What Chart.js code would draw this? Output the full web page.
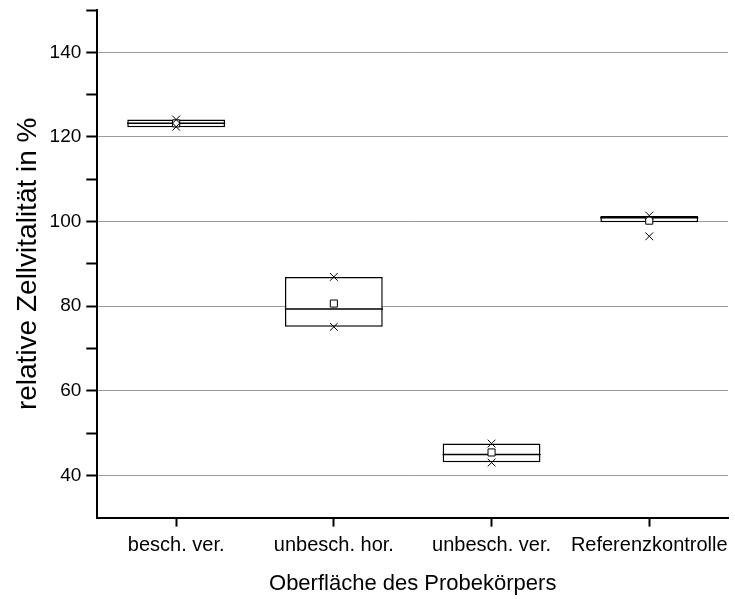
<!DOCTYPE html>
<html>
<head>
<meta charset="utf-8">
<script src="https://cdn.jsdelivr.net/npm/chart.js@4/dist/chart.umd.min.js"></script>
<style>
  html, body { margin: 0; padding: 0; background: #fff; overflow: hidden; }
  canvas { display: block; }
</style>
</head>
<body>
<canvas id="boxChart" width="735" height="599"></canvas>
<script>
const categories = ['besch. ver.', 'unbesch. hor.', 'unbesch. ver.', 'Referenzkontrolle'];
const boxLow = [122.3, 75.1, 43.1, 99.8];
const boxHigh = [124.1, 86.9, 47.5, 101.3];
const medians = [123.2, 79.3, 44.9, 100.9];
const means = [123.2, 80.6, 45.4, 100.2];
const pointsHigh = [124.1, 86.9, 47.5, 101.4];
const pointsLow = [122.4, 75.1, 43.0, 96.5];
const majorTicks = [40, 60, 80, 100, 120, 140];

document.addEventListener('DOMContentLoaded', () => {
    const ctx = document.getElementById('boxChart').getContext('2d');
    const font = 'Liberation Sans, Arial, sans-serif';

    new Chart(ctx, {
        type: 'bar',
        data: {
            labels: categories,
            datasets: [
                {
                    // Boxen
                    type: 'bar',
                    data: boxLow.map((v, i) => [v, boxHigh[i]]),
                    backgroundColor: '#ffffff',
                    borderColor: '#000000',
                    borderWidth: 1.5,
                    borderSkipped: false,
                    barPercentage: 0.62,
                    categoryPercentage: 1,
                    order: 3
                },
                {
                    // Median
                    type: 'line',
                    data: medians,
                    showLine: false,
                    pointStyle: 'line',
                    pointRadius: 49,
                    pointBorderWidth: 1.5,
                    pointBorderColor: '#000000',
                    order: 2
                },
                {
                    // Mittelwert
                    type: 'line',
                    data: means,
                    showLine: false,
                    pointStyle: 'rect',
                    pointRadius: 5,
                    pointBorderWidth: 1,
                    pointBorderColor: '#000000',
                    pointBackgroundColor: '#ffffff',
                    order: 1
                },
                {
                    type: 'line',
                    data: pointsHigh,
                    showLine: false,
                    pointStyle: 'crossRot',
                    pointRadius: 5.5,
                    pointBorderWidth: 1,
                    pointBorderColor: '#000000',
                    order: 0
                },
                {
                    type: 'line',
                    data: pointsLow,
                    showLine: false,
                    pointStyle: 'crossRot',
                    pointRadius: 5.5,
                    pointBorderWidth: 1,
                    pointBorderColor: '#000000',
                    order: 0
                }
            ]
        },
        options: {
            responsive: false,
            animation: false,
            layout: {
                autoPadding: false,
                padding: { top: 10, right: 3, left: 11, bottom: 2 }
            },
            plugins: {
                legend: { display: false },
                tooltip: { enabled: false }
            },
            scales: {
                x: {
                    offset: true,
                    grid: {
                        offset: false,
                        color: 'rgba(0,0,0,0)',
                        tickColor: '#000000',
                        tickLength: 9,
                        tickWidth: 2
                    },
                    border: { color: '#000000', width: 2 },
                    ticks: {
                        color: '#000000',
                        font: { family: font, size: 20 },
                        padding: 7,
                        maxRotation: 0,
                        autoSkip: false
                    },
                    title: {
                        display: true,
                        text: 'Oberfläche des Probekörpers',
                        color: '#000000',
                        font: { family: font, size: 22 },
                        padding: { top: 6, bottom: 0 }
                    }
                },
                y: {
                    min: 30,
                    max: 150,
                    afterFit: scale => {
                        scale.paddingTop = 0;
                        scale.paddingBottom = 0;
                    },
                    grid: {
                        color: c => majorTicks.includes(c.tick.value) ? '#9a9a9a' : 'rgba(0,0,0,0)',
                        tickColor: c => c.tick.value === 30 ? 'rgba(0,0,0,0)' : '#000000',
                        tickLength: 11,
                        tickWidth: 2,
                        lineWidth: 1
                    },
                    border: { color: '#000000', width: 2 },
                    ticks: {
                        stepSize: 10,
                        color: '#000000',
                        font: { family: font, size: 19 },
                        padding: 5,
                        callback: v => majorTicks.includes(v) ? v : ''
                    },
                    title: {
                        display: true,
                        text: 'relative Zellvitalität in %',
                        color: '#000000',
                        font: { family: font, size: 28 },
                        padding: { top: 0, bottom: 0 }
                    }
                }
            }
        }
    });
});
</script>
</body>
</html>
